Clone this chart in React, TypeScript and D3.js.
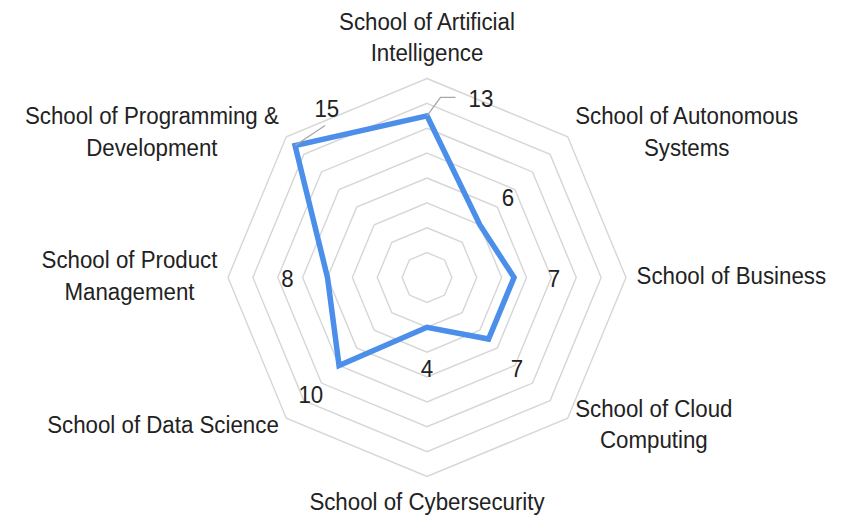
import React, { useEffect, useRef } from "react";
import * as d3 from "d3";

// ---- data ----
const categories: string[] = [
  "School of Artificial\nIntelligence",
  "School of Autonomous\nSystems",
  "School of Business",
  "School of Cloud\nComputing",
  "School of Cybersecurity",
  "School of Data Science",
  "School of Product\nManagement",
  "School of Programming &\nDevelopment",
];
const values: number[] = [13, 6, 7, 7, 4, 10, 8, 15];
const ringTicks: number[] = [2, 4, 6, 8, 10, 12, 14, 16];

// ---- layout ----
const W = 846;
const H = 517;
const CX = 427;
const CY = 277.5;
const R = 199;
const FS = 24.5;
const SX = 0.91;
const LH = 31.7;
const CAP = 0.716 * FS;
const TEXT = "#222222";
const LINE = "#4b8fea";
const GRID = "#d6d6d6";

// callout (leader line) layout for labels that would collide with category text
const callouts: Record<number, { elbow: [number, number]; arm: number; text: [number, number]; anchor: string }> = {
  0: { elbow: [13.5, -18.5], arm: 15, text: [13, 0], anchor: "start" },
  7: { elbow: [30, -20], arm: 0, text: [1.7, -18.3], anchor: "middle" },
};

export default function App() {
  const ref = useRef<SVGSVGElement | null>(null);

  useEffect(() => {
    const svg = d3.select(ref.current);
    svg.selectAll("*").remove();
    const n = categories.length;
    const r = d3.scaleLinear().domain([0, 16]).range([0, R]);
    const ang = (i: number) => (i * 2 * Math.PI) / n;
    const pt = (i: number, rad: number): [number, number] => [
      CX + rad * Math.sin(ang(i)),
      CY - rad * Math.cos(ang(i)),
    ];

    svg.append("rect").attr("width", W).attr("height", H).attr("fill", "#fff");

    // grid rings
    const ringLine = d3.line<[number, number]>().curve(d3.curveLinearClosed);
    svg
      .append("g")
      .selectAll("path")
      .data(ringTicks)
      .join("path")
      .attr("d", (t) => ringLine(d3.range(n).map((i) => pt(i, r(t)))))
      .attr("fill", "none")
      .attr("stroke", GRID)
      .attr("stroke-width", 1.4);

    // series polygon
    svg
      .append("path")
      .attr("d", ringLine(values.map((v, i) => pt(i, r(v)))))
      .attr("fill", "none")
      .attr("stroke", LINE)
      .attr("stroke-width", 5.5)
      .attr("stroke-linejoin", "miter");

    const font = "'Liberation Sans', Arial, sans-serif";

    // category labels
    categories.forEach((label, i) => {
      const lines = label.split("\n");
      const s = Math.sin(ang(i));
      const c = Math.cos(ang(i));
      const [vx, vy] = pt(i, R);
      const g = svg.append("g");
      const texts = lines.map((ln) =>
        g
          .append("text")
          .attr("text-anchor", "middle")
          .attr("font-family", font)
          .attr("font-size", FS)
          .attr("fill", TEXT)
          .text(ln)
      );
      const w = d3.max(texts, (t) => (t.node() as SVGTextElement).getComputedTextLength())! * SX;
      const blockH = CAP + (lines.length - 1) * LH;
      let bx: number;
      let firstBase: number;
      if (Math.abs(s) < 0.01) {
        bx = vx;
        if (c > 0) firstBase = vy - 17 - (lines.length - 1) * LH;
        else firstBase = vy + 15.5 + CAP;
      } else {
        bx = vx + s * 10.5 + Math.sign(s) * (w / 2);
        const centerY = vy - c * 8 - (Math.abs(c) < 0.01 ? 2 : 0);
        firstBase = centerY - blockH / 2 + CAP;
      }
      g.attr("transform", `translate(${bx},0) scale(${SX},1)`);
      texts.forEach((t, k) => t.attr("x", 0).attr("y", firstBase + k * LH));
    });

    // value labels
    values.forEach((v, i) => {
      const co = callouts[i];
      let tx: number;
      let ty: number;
      let anchor = "middle";
      if (co) {
        const [px, py] = pt(i, r(v));
        const ex = px + co.elbow[0];
        const ey = py + co.elbow[1];
        const ax = ex + co.arm;
        svg
          .append("polyline")
          .attr("points", `${px},${py} ${ex},${ey} ${ax},${ey}`)
          .attr("fill", "none")
          .attr("stroke", "#a6a6a6")
          .attr("stroke-width", 1.3);
        tx = ax + co.text[0];
        ty = ey + co.text[1];
        anchor = co.anchor;
      } else {
        [tx, ty] = pt(i, r(v) + 40);
      }
      svg
        .append("g")
        .attr("transform", `translate(${tx},0) scale(${SX},1)`)
        .append("text")
        .attr("x", 0)
        .attr("y", ty + CAP / 2 + 1)
        .attr("text-anchor", anchor)
        .attr("font-family", font)
        .attr("font-size", FS)
        .attr("fill", TEXT)
        .text(String(v));
    });
  }, []);

  return (
    <svg
      ref={ref}
      width={W}
      height={H}
      style={{ position: "absolute", left: 0, top: 0, display: "block" }}
    />
  );
}
